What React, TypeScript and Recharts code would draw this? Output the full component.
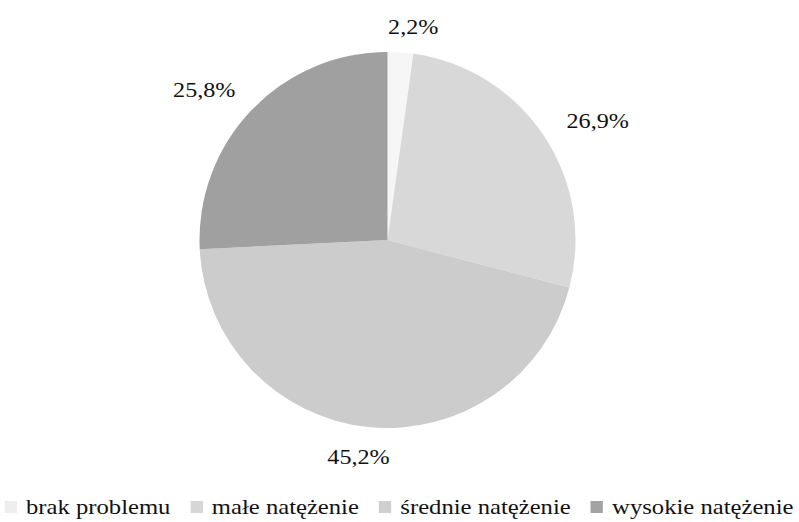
import React from "react";
import { PieChart, Pie, Cell, Legend } from "recharts";

const categories = ["brak problemu", "małe natężenie", "średnie natężenie", "wysokie natężenie"];
const shares = [2.2, 26.9, 45.2, 25.8];
const colors = ["#f6f6f6", "#d8d8d8", "#cccccc", "#a0a0a0"];
const legendColors = ["#eeeeee", "#d6d6d6", "#cfcfcf", "#a3a3a3"];
// per-label nudges (px) relative to the base label ring
const labelNudges: [number, number][] = [[11, 0], [33, -1], [-7, 5], [-29, -3]];

const data = categories.map((name, i) => ({ name, value: shares[i] }));

const RADIAN = Math.PI / 180;
const FONT = "Liberation Serif, Times, serif";

const renderLabel = (props: any) => {
  const { cx, cy, midAngle, outerRadius, index, value } = props;
  const r = outerRadius + 25;
  const x = cx + r * Math.cos(-midAngle * RADIAN) + labelNudges[index][0];
  const y = cy + r * Math.sin(-midAngle * RADIAN) + labelNudges[index][1];
  const txt = String(value).replace(".", ",") + "%";
  return (
    <text
      transform={`translate(${x},${y}) scale(1.15,1)`}
      textAnchor="middle"
      dominantBaseline="central"
      style={{ fontFamily: FONT }}
      fontSize={21}
      fill="#111"
    >
      {txt}
    </text>
  );
};

const renderLegend = () => (
  <div
    style={{
      width: 799,
      display: "flex",
      justifyContent: "center",
      fontFamily: FONT,
      fontSize: 22,
      color: "#111",
      whiteSpace: "nowrap",
    }}
  >
    <div style={{ display: "flex", alignItems: "center", transform: "scaleX(1.12)", transformOrigin: "center" }}>
      {categories.map((c, i) => (
        <span key={c} style={{ display: "inline-flex", alignItems: "center", marginRight: i < categories.length - 1 ? 18 : 0 }}>
          <span style={{ display: "inline-block", width: 11, height: 12, background: legendColors[i], marginRight: 8 }} />
          <span>{c}</span>
        </span>
      ))}
    </div>
  </div>
);

export default function App() {
  return (
    <div style={{ position: "absolute", left: 0, top: 0, width: 799, height: 522, background: "#fff" }}>
      <PieChart width={799} height={522} margin={{ top: 0, right: 0, bottom: 0, left: 0 }}>
        <Pie
          data={data}
          dataKey="value"
          nameKey="name"
          cx={387.5}
          cy={240}
          outerRadius={188}
          startAngle={90}
          endAngle={-270}
          stroke="none"
          label={renderLabel}
          labelLine={false}
          isAnimationActive={false}
        >
          {data.map((d, i) => (
            <Cell key={d.name} fill={colors[i]} />
          ))}
        </Pie>
        <Legend
          content={renderLegend}
          verticalAlign="bottom"
          wrapperStyle={{ position: "absolute", left: 0, top: 494, width: 799 }}
        />
      </PieChart>
    </div>
  );
}
